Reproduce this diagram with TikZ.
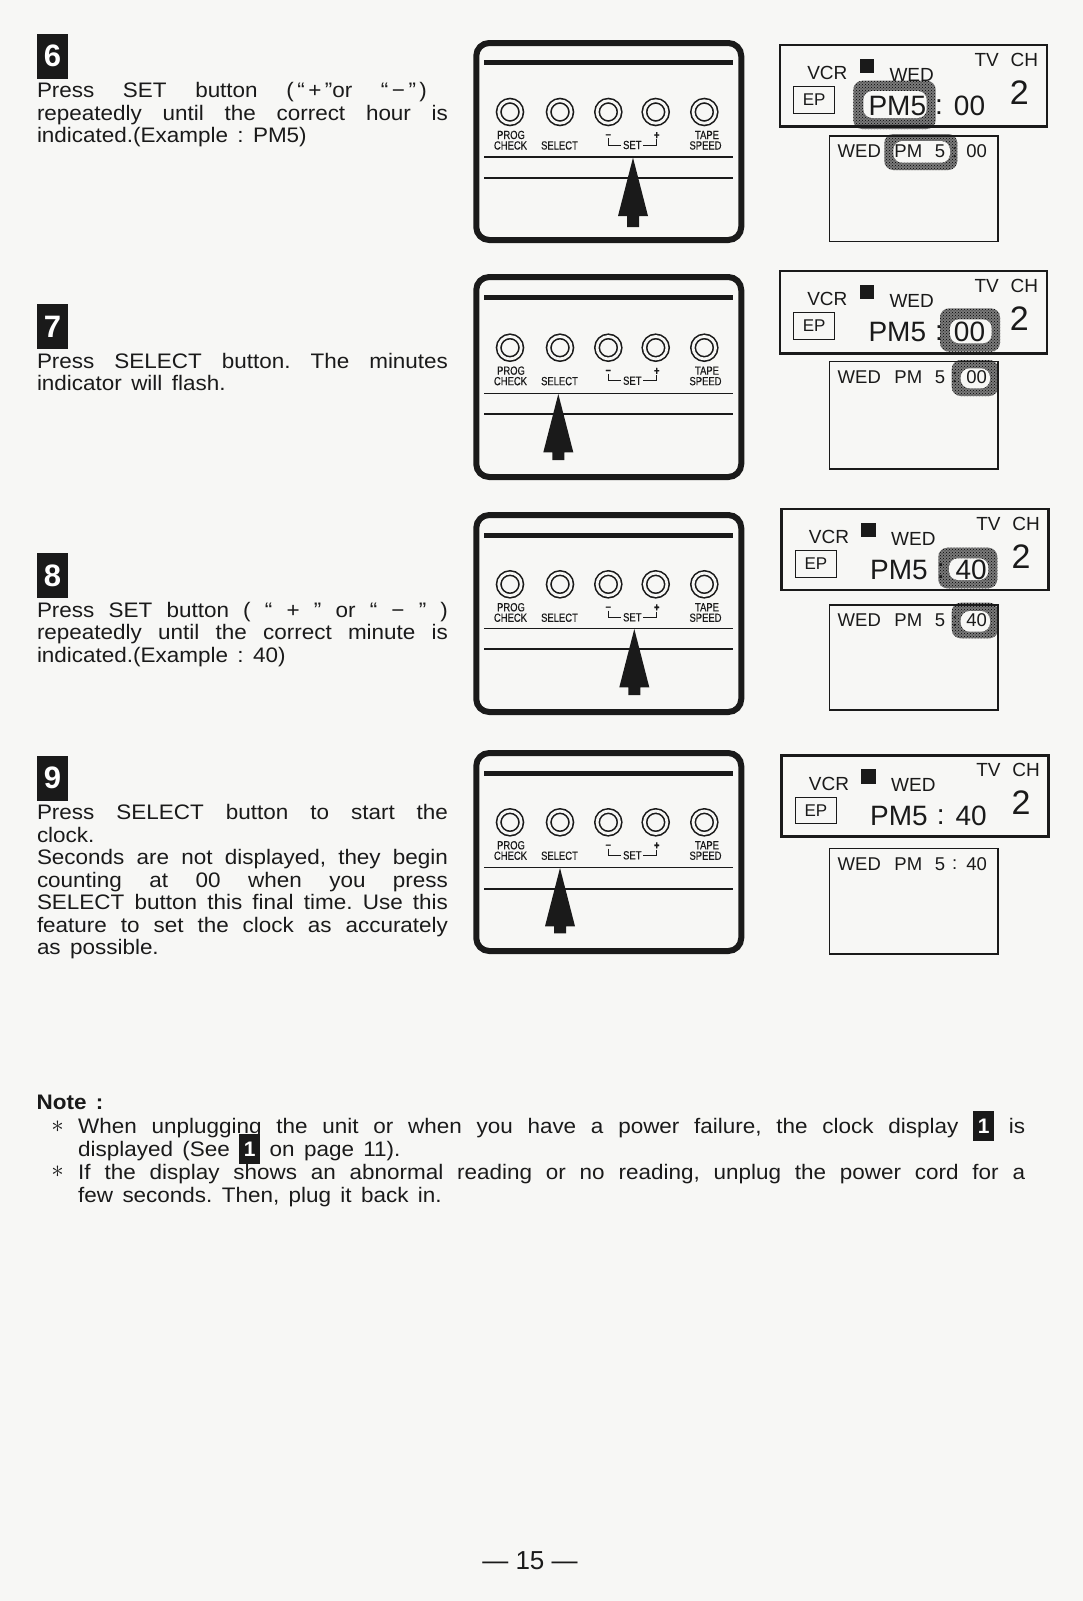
\documentclass[tikz,border=0pt]{standalone}
\usepackage{fontspec}
\usepackage{xcolor}
\usetikzlibrary{patterns,positioning,calc}
\setmainfont[FakeStretch=1.07,WordSpace=1.5]{Liberation Sans}
\newfontfamily\lcdfont{Liberation Sans}
\newfontfamily\lblfont[FakeStretch=0.8,FakeBold=0.4]{Liberation Sans}
\definecolor{paper}{HTML}{F7F7F5}
\definecolor{ink}{HTML}{1A1A1A}
\definecolor{dith}{HTML}{7A7A7A}
\tikzset{
  badge/.style={fill=ink, text=white, minimum width=31pt, minimum height=45.5pt, inner sep=0pt,
    font=\lcdfont\bfseries\fontsize{31}{31}\selectfont},
  steptext/.style={font=\frenchspacing\fontsize{21}{22.5}\selectfont, text=ink, text width=411pt, align=justify,
    inner sep=0pt, anchor=north west, yshift=-3pt},
  notetext/.style={font=\frenchspacing\fontsize{21}{22.7}\selectfont, text=ink, text width=947pt, align=justify,
    inner sep=0pt, anchor=north west},
  panelbox/.style={draw=ink, line width=6pt, rounded corners=13pt, minimum width=265pt, outer sep=0pt},
  btn/.style={circle, draw=ink, line width=1.6pt, double=paper, double distance=2.8pt,
    minimum size=22.5pt, inner sep=0pt, outer sep=0pt},
  lbl/.style={font=\lblfont\fontsize{11.8}{11.8}\selectfont, text=ink, inner sep=0pt, anchor=base},
  lcdbig/.style={draw=ink, line width=2.7pt, minimum width=267pt, anchor=north west, outer sep=0pt},
  lcdlow/.style={draw=ink, line width=1.2pt, minimum width=168.7pt, anchor=north west, outer sep=0pt},
  lcdtxt/.style={font=\lcdfont\fontsize{19}{19}\selectfont, text=ink, inner sep=0pt, anchor=base},
  lowtxt/.style={font=\lcdfont\fontsize{18.5}{18.5}\selectfont, text=ink, inner sep=0pt, anchor=base},
  timetxt/.style={font=\lcdfont\fontsize{28}{28}\selectfont, text=ink, inner sep=0pt, anchor=base},
  hlouter/.style={fill=dith, rounded corners=9pt},
  hlinner/.style={fill=paper, rounded corners=9pt},
  starmark/.style={inner sep=0pt, text=ink, font=\fontsize{30}{30}\selectfont},
}
% name, y top, y bottom, y heavy line, y buttons, y thin line, y lower line, x arrow, y arrow end
\newcommand{\Panel}[9]{
  \node[panelbox, minimum height=#3-#2, anchor=north] (#1box) at (608.75,#2) {};
  \draw[ink, line width=5pt] (484,#4) -- (733,#4);
  \foreach \bx/\bn in {510/a,560/b,608.3/c,655.7/d,704.3/e}
    \node[btn] (#1\bn) at (\bx,#5) {};
  \node[lbl] (#1prog) at (511,#5+27) {PROG};
  \node[lbl] (#1check) at (510.5,#5+37.5) {CHECK};
  \node[lbl] (#1select) at (559.5,#5+37.5) {SELECT};
  \node[lbl] (#1minus) at (608.3,#5+26) {\textbf{–}};
  \node[lbl] (#1plus) at (656.7,#5+27) {\textbf{+}};
  \node[lbl, inner sep=1.5pt, anchor=center] (#1set) at (632.3,#5+33) {SET};
  \draw[ink, line width=0.9pt] (#1minus.south) |- (#1set.west);
  \draw[ink, line width=0.9pt] (#1plus.south) |- (#1set.east);
  \node[lbl] (#1tape) at (707,#5+27) {TAPE};
  \node[lbl] (#1speed) at (705.5,#5+37.5) {SPEED};
  \draw[ink, line width=1.3pt] (484,#6) -- (733,#6);
  \draw[ink, line width=2.2pt] (484,#7) -- (733,#7);
  \fill[ink] (#8,#6+0.7) -- (#8+15,#6+59) -- (#8+6,#6+59) -- (#8+6,#9) -- (#8-6,#9)
    -- (#8-6,#6+59) -- (#8-15,#6+59) -- cycle;
}
\newcommand{\Hl}[8]{
  \fill[hlouter] (#1,#2) rectangle (#3,#4);
  \path[pattern=crosshatch dots, pattern color=black, rounded corners=9pt] (#1,#2) rectangle (#3,#4);
  \fill[hlinner] (#5,#6) rectangle (#7,#8);
}
% name, x, y, height, minutes
\newcommand{\LcdTop}[5]{
  \node[lcdbig, minimum height=#4] (#1lcd) at (#2,#3) {};
  \begin{scope}[shift={(#2,#3)}]
    \node[lcdtxt] (#1vcr) at (47.3,34.5) {VCR};
    \node[fill=ink, minimum size=14.5pt, inner sep=0pt, anchor=north west] (#1sq) at (79.3,13.5) {};
    \node[lcdtxt] (#1wed) at (131.7,36) {WED};
    \node[lcdtxt] (#1tv) at (206.7,21) {TV};
    \node[lcdtxt] (#1ch) at (244.3,21) {CH};
    \node[draw=ink, line width=1.3pt, minimum width=41pt, minimum height=26.5pt, inner sep=0pt,
      anchor=north west, font=\lcdfont\fontsize{17}{17}\selectfont, text=ink] (#1ep) at (13,41) {EP};
    \node[timetxt, anchor=base west] (#1pm) at (88.3,70) {PM5};
    \node[timetxt] (#1col) at (159,69) {:};
    \node[timetxt] (#1min) at (189.5,70) {#5};
    \node[font=\lcdfont\fontsize{34}{34}\selectfont, text=ink, inner sep=0pt, anchor=base] (#1ch2) at (239.3,59) {2};
  \end{scope}
}
% name, y, height, minutes
\newcommand{\LcdLow}[4]{
  \node[lcdlow, minimum height=#3] (#1low) at (829.3,#2) {};
  \begin{scope}[shift={(829.3,#2)}]
    \node[lowtxt] (#1lwed) at (30,21.7) {WED};
    \node[lowtxt] (#1lpm) at (79,21.7) {PM};
    \node[lowtxt] (#1lfive) at (110.7,21.7) {5};
    \node[lowtxt] (#1lcol) at (125.5,21) {:};
    \node[lowtxt] (#1lmin) at (147.4,21.7) {#4};
  \end{scope}
}
\newcommand{\NoteNum}{\smash{\setlength{\fboxsep}{0pt}\colorbox{ink}{\makebox[21pt]{\rule[-7pt]{0pt}{30pt}\textcolor{white}{\lcdfont\bfseries 1}}}}}

\begin{document}
\begin{tikzpicture}[x=1pt,y=-1pt]
  \useasboundingbox (0,0) rectangle (1083,1601);
  \fill[paper] (0,0) rectangle (1083,1601);

  % step texts
  \node[badge] (badge6) at (52.5,56.3) {6};
  \node[steptext] (text6) at (badge6.south west) {Press SET button (\,“\,+\,”or “\,−\,”\,)\hspace*{21pt}\linebreak
    repeatedly until the correct hour is\linebreak indicated.(Example : PM5)};
  \node[badge] (badge7) at (52.5,326.7) {7};
  \node[steptext] (text7) at (badge7.south west) {Press SELECT button. The minutes\linebreak
    indicator will flash.};
  \node[badge] (badge8) at (52.5,575.7) {8};
  \node[steptext] (text8) at (badge8.south west) {Press SET button ( “ + ” or “ − ” )\linebreak
    repeatedly until the correct minute is\linebreak indicated.(Example : 40)};
  \node[badge] (badge9) at (52.5,778.3) {9};
  \node[steptext] (text9) at (badge9.south west) {Press SELECT button to start the\linebreak
    clock.\\
    Seconds are not displayed, they begin\linebreak counting at 00 when you press\linebreak
    SELECT button this final time. Use this\linebreak feature to set the clock as accurately\linebreak
    as possible.};

  % front panels
  \Panel{p6}{43}{240}{62}{112}{157}{178}{633}{227}
  \Panel{p7}{277}{477}{297.7}{347.7}{393.3}{414.3}{558.3}{460}
  \Panel{p8}{515}{712}{535.7}{584.3}{628.3}{649.3}{634.3}{695}
  \Panel{p9}{753}{951}{773.3}{822.3}{867.3}{888.7}{560}{933.3}

  % displays
  \Hl{853.3}{80.7}{935.7}{129}{863.3}{91}{926.7}{118}
  \Hl{884.3}{134}{957.3}{170}{893.3}{141}{950}{162.7}
  \LcdTop{d6}{780}{45}{81.7}{00}
  \LcdLow{d6}{136}{105.7}{00}

  \Hl{940}{308.3}{1000}{351.7}{950}{319.3}{991.7}{343.3}
  \Hl{951.7}{360}{998.3}{396}{960.7}{368.3}{990}{388.3}
  \LcdTop{d7}{780}{271}{82.3}{00}
  \LcdLow{d7}{361.7}{107.3}{00}

  \Hl{938.3}{547.7}{997.3}{588.3}{949}{558.3}{988.3}{580}
  \Hl{951.7}{602.7}{998.3}{638.3}{960.7}{611}{990}{631.7}
  \LcdTop{d8}{781.7}{509}{81}{40}
  \LcdLow{d8}{605}{105}{40}

  \LcdTop{d9}{781.7}{755.5}{81.2}{40}
  \LcdLow{d9}{848.3}{105.7}{40}

  % note
  \node[anchor=base west, inner sep=0pt, text=ink, font=\bfseries\fontsize{21}{22.7}\selectfont] (notehead) at (36.5,1109) {Note :};
  \node[notetext] (note1) at (78,1118.5) {When unplugging the unit or when you have a power failure, the clock display \NoteNum{} is\linebreak
    displayed (See \NoteNum{} on page 11).};
  \node[notetext, yshift=-3pt] (note2) at (note1.south west) {If the display shows an abnormal reading or no reading, unplug the power cord for a\linebreak
    few seconds. Then, plug it back in.};
  \node[starmark, left=14pt of note1.north west, yshift=-8pt] (star1) {$\ast$};
  \node[starmark, left=14pt of note2.north west, yshift=-8pt] (star2) {$\ast$};

  \node[anchor=base, inner sep=0pt, text=ink, font=\lcdfont\fontsize{26}{26}\selectfont] (pageno) at (530,1569) {— 15 —};
\end{tikzpicture}
\end{document}
